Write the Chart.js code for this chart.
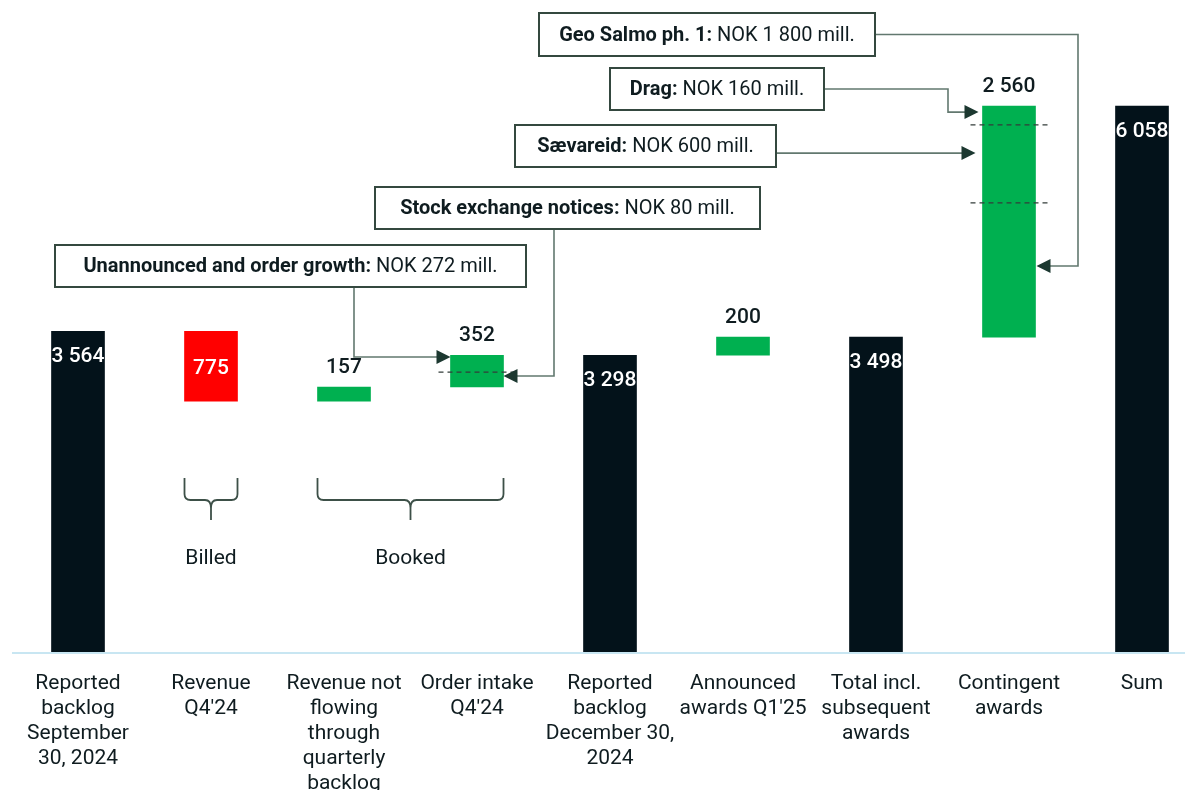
<!DOCTYPE html>
<html>
<head>
<meta charset="utf-8">
<script src="https://cdn.jsdelivr.net/npm/chart.js@4"></script>
<style>
  html, body { margin: 0; padding: 0; background: #fff; }
  canvas { display: block; }
</style>
</head>
<body>
<canvas id="chart" width="1185" height="790"></canvas>
<script>
// categories and values (NOK mill.)
const categories = [
  ['Reported', 'backlog', 'September', '30, 2024'],
  ['Revenue', "Q4'24"],
  ['Revenue not', 'flowing', 'through', 'quarterly', 'backlog'],
  ['Order intake', "Q4'24"],
  ['Reported', 'backlog', 'December 30,', '2024'],
  ['Announced', "awards Q1'25"],
  ['Total incl.', 'subsequent', 'awards'],
  ['Contingent', 'awards'],
  ['Sum']
];
const values = [3564, -775, 157, 352, 3298, 200, 3498, 2560, 6058];
const barKinds = ['total', 'change', 'change', 'change', 'total', 'change', 'total', 'change', 'total'];

// callouts
const calloutBold = ['Unannounced and order growth:', 'Stock exchange notices:', 'Geo Salmo ph. 1:', 'Drag:', 'Sævareid:'];
const calloutText = ['NOK 272 mill.', 'NOK 80 mill.', 'NOK 1 800 mill.', 'NOK 160 mill.', 'NOK 600 mill.'];
const calloutBar = [3, 3, 7, 7, 7];
const calloutLevel = [3278, 3068, 4286, 5991, 5537];
const dashedLevels = [[3, 3112], [7, 5850], [7, 4985]];

const groupNames = ['Billed', 'Booked'];
const groupBars = [[1, 1], [2, 3]];

const BLACK = '#03121a';
const RED = '#ff0000';
const GREEN = '#00b050';
const TEXT = '#0f1c20';
const FONT = 'Roboto, "Noto Sans", sans-serif';

// waterfall ranges
let running = 0;
const ranges = values.map((v, i) => {
  if (barKinds[i] === 'total') { running = v; return [0, v]; }
  const r = v < 0 ? [running + v, running] : [running, running + v];
  running += v;
  return r;
});
const colors = values.map((v, i) => barKinds[i] === 'total' ? BLACK : (v < 0 ? RED : GREEN));

function fmt(n) {
  return String(Math.abs(n)).replace(/\B(?=(\d{3})+(?!\d))/g, ' ');
}

function arrowHead(ctx, tx, ty, dir) {
  ctx.beginPath();
  ctx.moveTo(tx, ty);
  ctx.lineTo(tx - dir * 14, ty - 7);
  ctx.lineTo(tx - dir * 14, ty + 7);
  ctx.closePath();
  ctx.fill();
}

function brace(ctx, x1, x2, yTop, yMid, yTip) {
  const cx = (x1 + x2) / 2, r = 6;
  ctx.beginPath();
  ctx.moveTo(x1, yTop);
  ctx.lineTo(x1, yMid - r);
  ctx.quadraticCurveTo(x1, yMid, x1 + r, yMid);
  ctx.lineTo(cx - r, yMid);
  ctx.quadraticCurveTo(cx, yMid, cx, yMid + r + 2);
  ctx.lineTo(cx, yTip);
  ctx.moveTo(x2, yTop);
  ctx.lineTo(x2, yMid - r);
  ctx.quadraticCurveTo(x2, yMid, x2 - r, yMid);
  ctx.lineTo(cx + r, yMid);
  ctx.quadraticCurveTo(cx, yMid, cx, yMid + r + 2);
  ctx.stroke();
}

const waterfallExtras = {
  id: 'waterfallExtras',
  afterDatasetsDraw(chart) {
    const ctx = chart.ctx;
    const y = chart.scales.y;
    const bars = chart.getDatasetMeta(0).data;
    ctx.save();

    // axis line
    ctx.strokeStyle = '#c8e6f2';
    ctx.lineWidth = 2;
    ctx.beginPath();
    ctx.moveTo(12, y.getPixelForValue(0));
    ctx.lineTo(chart.width, y.getPixelForValue(0));
    ctx.stroke();

    // value labels
    ctx.font = '500 21px ' + FONT;
    ctx.textAlign = 'center';
    ctx.textBaseline = 'middle';
    bars.forEach((b, i) => {
      const top = Math.min(b.y, b.base), bottom = Math.max(b.y, b.base);
      if (barKinds[i] === 'total') {
        ctx.fillStyle = '#ffffff';
        ctx.fillText(fmt(values[i]), b.x, top + 26);
      } else if (values[i] < 0) {
        ctx.fillStyle = '#ffffff';
        ctx.fillText(fmt(values[i]), b.x, (top + bottom) / 2 + 3);
      } else {
        ctx.fillStyle = TEXT;
        ctx.fillText(fmt(values[i]), b.x, top - 19);
      }
    });

    // dashed split lines
    ctx.strokeStyle = '#333d3a';
    ctx.lineWidth = 1.2;
    ctx.setLineDash([5, 4]);
    dashedLevels.forEach(([i, v]) => {
      const b = bars[i];
      const py = y.getPixelForValue(v);
      ctx.beginPath();
      ctx.moveTo(b.x - b.width / 2 - 12, py);
      ctx.lineTo(b.x + b.width / 2 + 12, py);
      ctx.stroke();
    });
    ctx.setLineDash([]);

    // callout boxes and connectors
    const boxes = [
      [55, 245, 471, 42],
      [375, 187, 385, 42],
      [539, 13, 336, 43],
      [610, 68, 214, 42],
      [515, 125, 261, 42]
    ];
    ctx.strokeStyle = '#62786f';
    ctx.fillStyle = '#1c3830';
    ctx.lineWidth = 1.6;
    calloutBar.forEach((bi, k) => {
      const b = bars[bi];
      const [bx, by, bw, bh] = boxes[k];
      const ly = y.getPixelForValue(calloutLevel[k]);
      const left = b.x - b.width / 2, right = b.x + b.width / 2;
      ctx.beginPath();
      if (k === 0) {
        ctx.moveTo(354, by + bh); ctx.lineTo(354, ly); ctx.lineTo(left - 13, ly);
        ctx.stroke(); arrowHead(ctx, left, ly, 1);
      } else if (k === 1) {
        ctx.moveTo(554, by + bh); ctx.lineTo(554, ly); ctx.lineTo(right + 13, ly);
        ctx.stroke(); arrowHead(ctx, right, ly, -1);
      } else if (k === 2) {
        const my = by + bh / 2;
        ctx.moveTo(bx + bw, my); ctx.lineTo(1078, my); ctx.lineTo(1078, ly); ctx.lineTo(right + 14, ly);
        ctx.stroke(); arrowHead(ctx, right + 1, ly, -1);
      } else if (k === 3) {
        const my = by + bh / 2;
        ctx.moveTo(bx + bw, my); ctx.lineTo(948, my); ctx.lineTo(948, ly); ctx.lineTo(left - 17, ly);
        ctx.stroke(); arrowHead(ctx, left - 4, ly, 1);
      } else {
        ctx.moveTo(bx + bw, ly); ctx.lineTo(left - 20, ly);
        ctx.stroke(); arrowHead(ctx, left - 7, ly, 1);
      }
    });

    boxes.forEach(([bx, by, bw, bh], k) => {
      ctx.fillStyle = '#ffffff';
      ctx.fillRect(bx, by, bw, bh);
      ctx.strokeStyle = '#34483f';
      ctx.lineWidth = 2;
      ctx.strokeRect(bx, by, bw, bh);
      const boldF = 'bold 20px ' + FONT, regF = '20px ' + FONT;
      ctx.font = boldF;
      const w1 = ctx.measureText(calloutBold[k] + ' ').width;
      ctx.font = regF;
      const w2 = ctx.measureText(calloutText[k]).width;
      const sx = bx + (bw - w1 - w2) / 2;
      ctx.textAlign = 'left';
      ctx.fillStyle = TEXT;
      ctx.font = boldF;
      ctx.fillText(calloutBold[k] + ' ', sx, by + bh / 2 + 1);
      ctx.font = regF;
      ctx.fillText(calloutText[k], sx + w1, by + bh / 2 + 1);
    });

    // braces
    ctx.strokeStyle = '#3d5048';
    ctx.lineWidth = 1.8;
    ctx.textAlign = 'center';
    ctx.font = '21px ' + FONT;
    groupBars.forEach(([a, c], k) => {
      const x1 = bars[a].x - bars[a].width / 2;
      const x2 = bars[c].x + bars[c].width / 2;
      brace(ctx, x1, x2, 478, 500, 520);
      ctx.fillStyle = TEXT;
      ctx.fillText(groupNames[k], (x1 + x2) / 2, 559);
    });

    ctx.restore();
  }
};

new Chart(document.getElementById('chart'), {
  type: 'bar',
  data: {
    labels: categories,
    datasets: [{
      data: ranges,
      backgroundColor: colors,
      borderWidth: 0,
      barThickness: 53,
      clip: false
    }]
  },
  options: {
    responsive: false,
    animation: false,
    devicePixelRatio: 1,
    layout: { padding: { top: 21, left: 78, right: 43, bottom: 0 } },
    plugins: {
      legend: { display: false },
      tooltip: { enabled: false }
    },
    scales: {
      x: {
        offset: false,
        grid: { display: false, drawTicks: false },
        border: { display: false },
        ticks: {
          autoSkip: false,
          maxRotation: 0,
          minRotation: 0,
          padding: 18,
          color: TEXT,
          font: { family: FONT, size: 21, lineHeight: 1.19 }
        },
        afterFit(scale) { scale.height = 137; }
      },
      y: {
        display: false,
        min: 0,
        max: 7000
      }
    }
  },
  plugins: [waterfallExtras]
});
</script>
</body>
</html>
